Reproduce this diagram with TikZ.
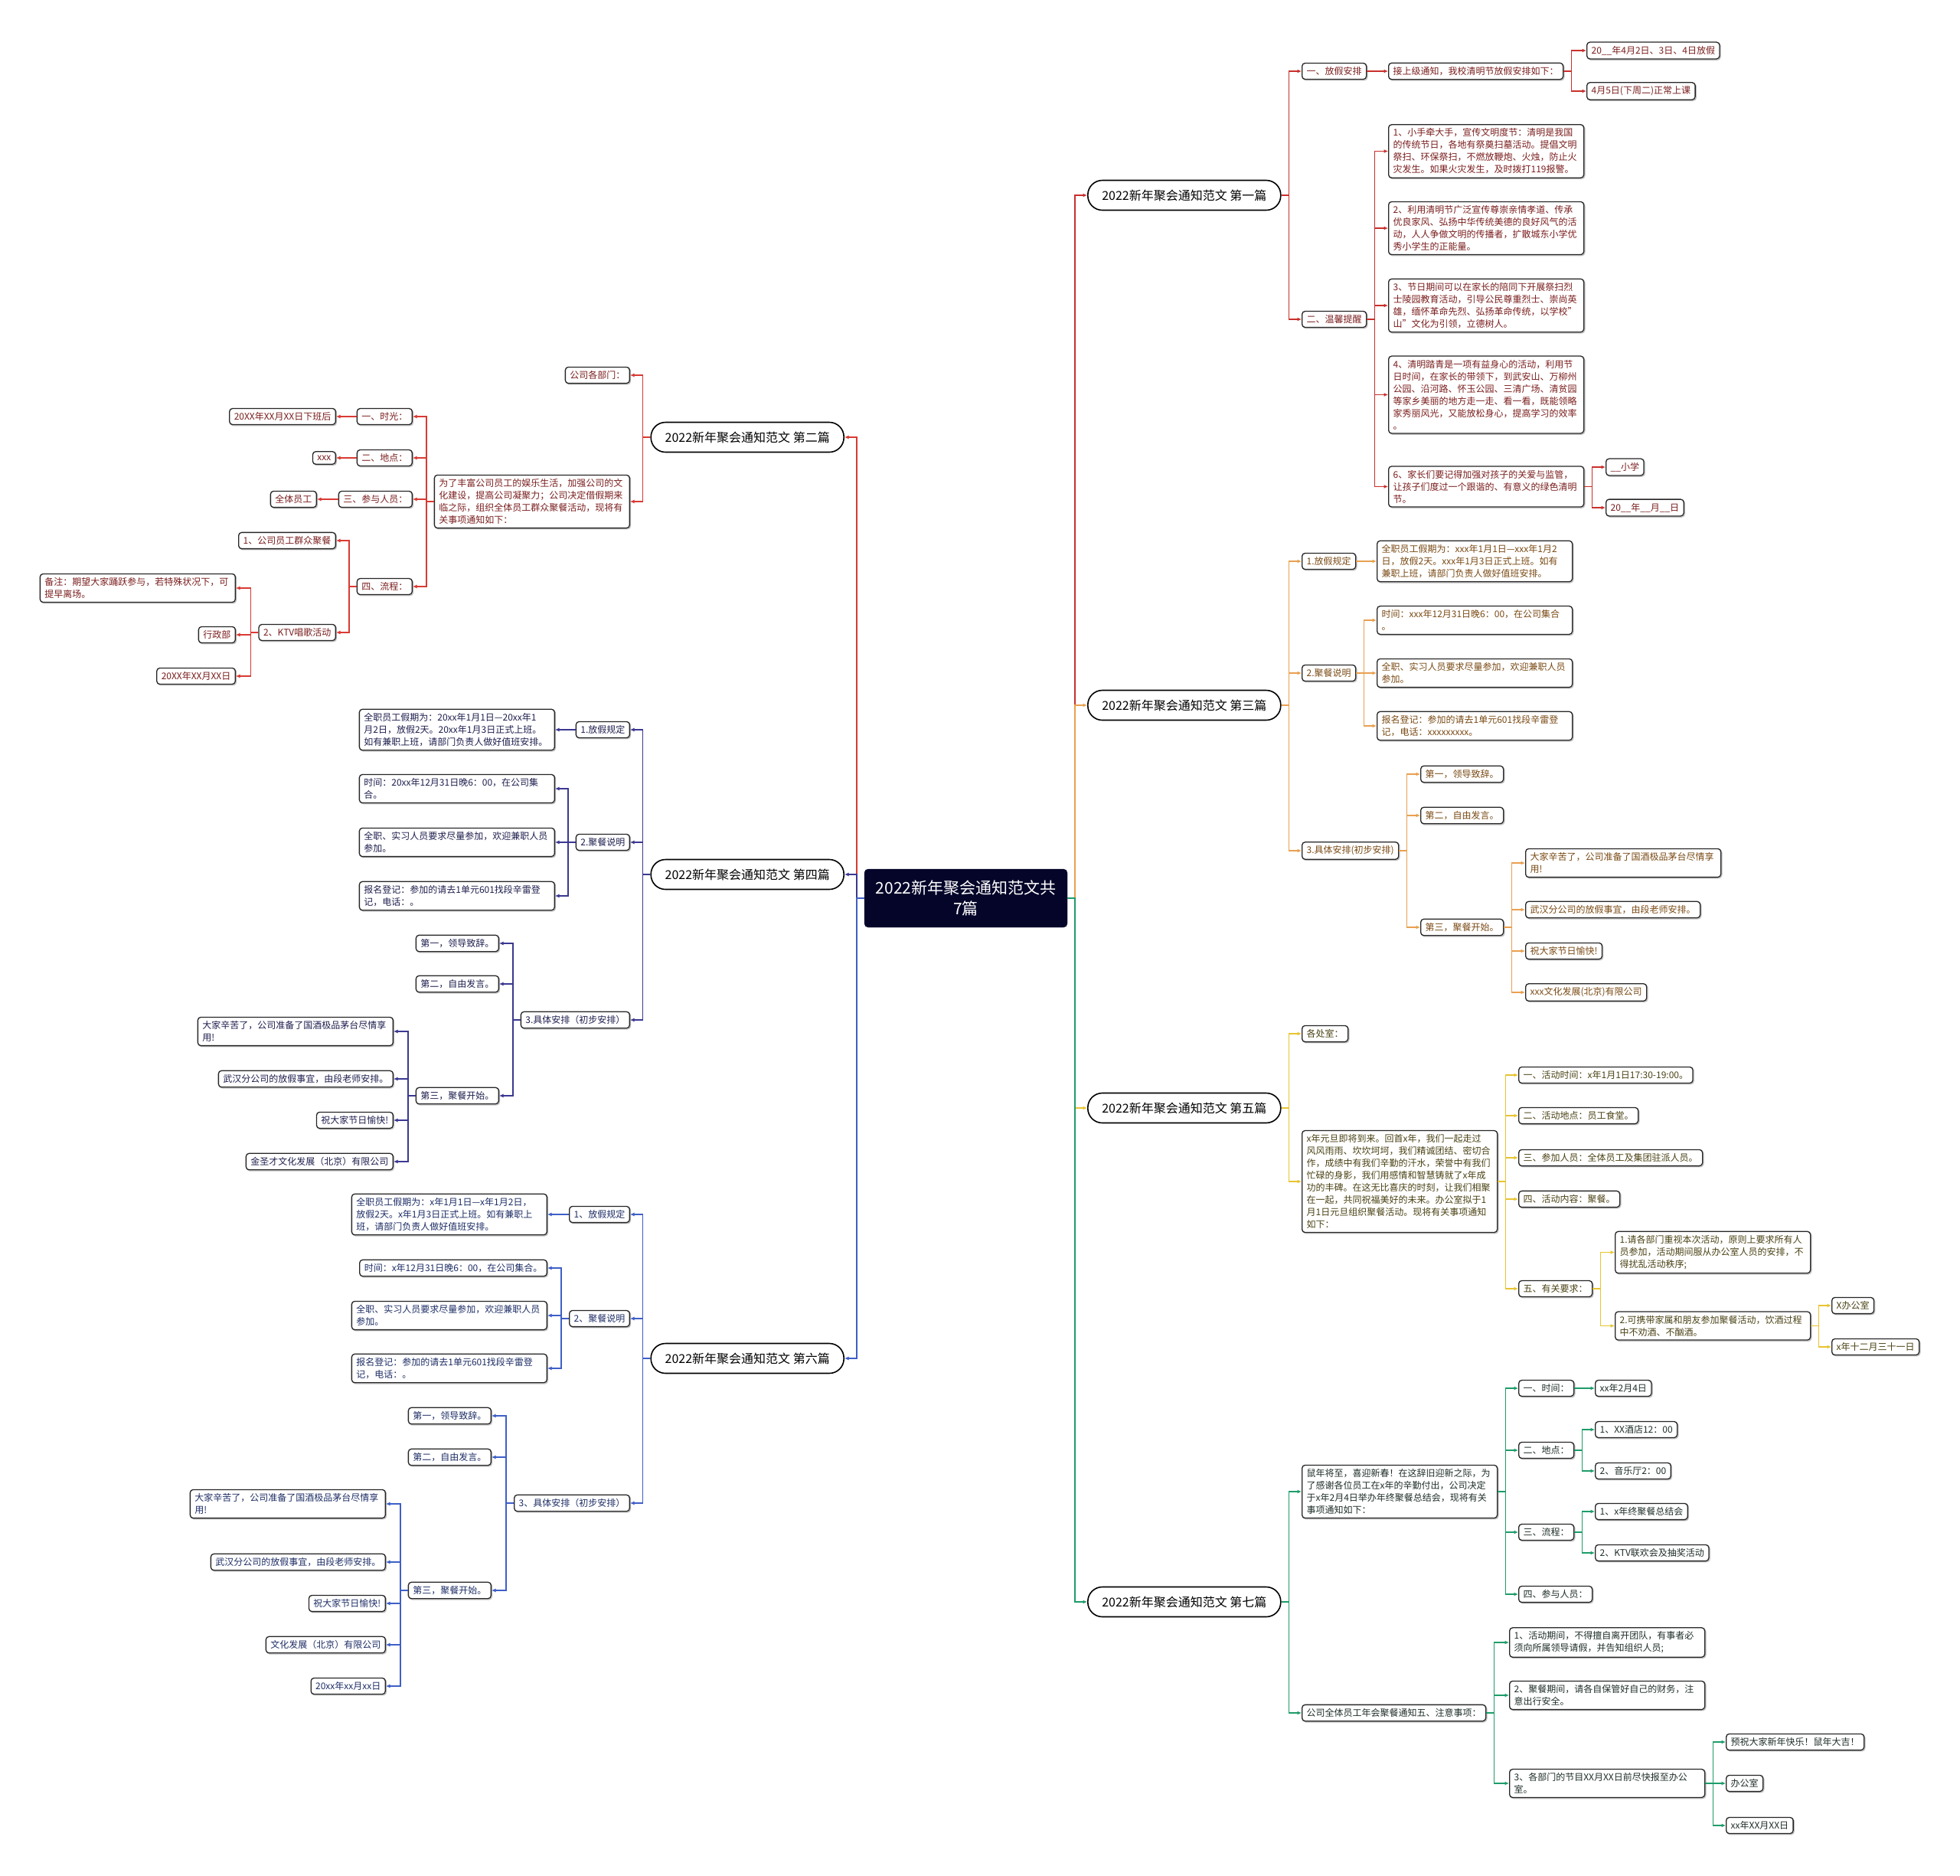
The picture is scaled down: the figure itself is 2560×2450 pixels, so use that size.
\documentclass[tikz,border=0pt]{standalone}
\usepackage{fontspec}
\setmainfont{Noto Sans CJK SC}
\usetikzlibrary{arrows.meta}
\definecolor{c1}{HTML}{C8302C}\definecolor{t1}{HTML}{7B1E1E}
\definecolor{c2}{HTML}{D93A33}\definecolor{t2}{HTML}{7B1E1E}
\definecolor{c3}{HTML}{E9A050}\definecolor{t3}{HTML}{7A4A14}
\definecolor{c4}{HTML}{3B3891}\definecolor{t4}{HTML}{1F1F4F}
\definecolor{c5}{HTML}{E6C431}\definecolor{t5}{HTML}{4A4214}
\definecolor{c6}{HTML}{3D5FC7}\definecolor{t6}{HTML}{1E2E66}
\definecolor{c7}{HTML}{1E9C6A}\definecolor{t7}{HTML}{1F2F28}
\definecolor{rootc}{HTML}{05052A}
\tikzset{
  leaf/.style={draw=black!85, line width=1.3pt, rounded corners=4pt, fill=white,
    inner xsep=6pt, inner ysep=5pt, font=\fontsize{12}{16}\selectfont, align=left,
    preaction={draw=black!25, line width=1.3pt, transform canvas={xshift=1.2pt,yshift=-1.2pt}}},
  para/.style={text width=243pt},
  ttl/.style={draw=black, line width=1.6pt, rounded corners=19pt, fill=white,
    minimum height=39pt, minimum width=252pt, font=\fontsize{16}{20}\selectfont},
  conn/.style={line width=1.6pt, -{Latex[length=5.5pt,width=5pt]}},
  R/.style={leaf, anchor=west},
  L/.style={leaf, anchor=east},
}
\newcommand\cR[3]{\draw[conn,#1] (#2.east) -- ++(10,0) |- (#3.west);}
\newcommand\cL[3]{\draw[conn,#1] (#2.west) -- ++(-10,0) |- (#3.east);}
\begin{document}
\begin{tikzpicture}[x=1pt,y=-1pt]
\fill[white] (0,0) rectangle (2560,2450);
\useasboundingbox (0,0) rectangle (2560,2450);

% root
\node[fill=rootc, draw=rootc, rounded corners=5pt, minimum width=265pt, minimum height=76pt,
  text=white, align=center, font=\fontsize{21}{27}\selectfont] (root) at (1261.5,1173)
  {2022新年聚会通知范文共\\7篇};

% titles
\node[ttl, anchor=west] (T1) at (1420,255) {2022新年聚会通知范文 第一篇};
\node[ttl, anchor=west] (T3) at (1420,921) {2022新年聚会通知范文 第三篇};
\node[ttl, anchor=west] (T5) at (1420,1447) {2022新年聚会通知范文 第五篇};
\node[ttl, anchor=west] (T7) at (1420,2092) {2022新年聚会通知范文 第七篇};
\node[ttl, anchor=east] (T2) at (1103,571) {2022新年聚会通知范文 第二篇};
\node[ttl, anchor=east] (T4) at (1103,1142) {2022新年聚会通知范文 第四篇};
\node[ttl, anchor=east] (T6) at (1103,1774) {2022新年聚会通知范文 第六篇};

\cR{c1}{root}{T1}
\cR{c3}{root}{T3}
\cR{c5}{root}{T5}
\cR{c7}{root}{T7}
\cL{c2}{root}{T2}
\cL{c4}{root}{T4}
\cL{c6}{root}{T6}

% ---------------- Branch 1
\begin{scope}[every node/.append style={text=t1}]
\node[R] (a1) at (1700,93) {一、放假安排};
\node[R] (a11) at (1813,93) {接上级通知，我校清明节放假安排如下：};
\node[R] (a111) at (2072,66) {20\_\_年4月2日、3日、4日放假};
\node[R] (a112) at (2072,119) {4月5日(下周二)正常上课};
\node[R] (a2) at (1700,417) {二、温馨提醒};
\node[R,para] (a21) at (1813,197.5) {1、小手牵大手，宣传文明度节：清明是我国\\的传统节日，各地有祭奠扫墓活动。提倡文明\\祭扫、环保祭扫，不燃放鞭炮、火烛，防止火\\灾发生。如果火灾发生，及时拨打119报警。};
\node[R,para] (a22) at (1813,298) {2、利用清明节广泛宣传尊崇亲情孝道、传承\\优良家风、弘扬中华传统美德的良好风气的活\\动，人人争做文明的传播者，扩散城东小学优\\秀小学生的正能量。};
\node[R,para] (a23) at (1813,399) {3、节日期间可以在家长的陪同下开展祭扫烈\\士陵园教育活动，引导公民尊重烈士、崇尚英\\雄，缅怀革命先烈、弘扬革命传统，以学校"\\山"文化为引领，立德树人。};
\node[R,para] (a24) at (1813,515.5) {4、清明踏青是一项有益身心的活动，利用节\\日时间，在家长的带领下，到武安山、万柳州\\公园、沿河路、怀玉公园、三清广场、清贫园\\等家乡美丽的地方走一走、看一看，既能领略\\家秀丽风光，又能放松身心，提高学习的效率\\。};
\node[R,para] (a26) at (1813,635.5) {6、家长们要记得加强对孩子的关爱与监管，\\让孩子们度过一个跟谐的、有意义的绿色清明\\节。};
\node[R] (a261) at (2097,610) {\_\_小学};
\node[R] (a262) at (2097,663) {20\_\_年\_\_月\_\_日};
\end{scope}
\cR{c1}{T1}{a1}\cR{c1}{T1}{a2}
\cR{c1}{a1}{a11}\cR{c1}{a11}{a111}\cR{c1}{a11}{a112}
\cR{c1}{a2}{a21}\cR{c1}{a2}{a22}\cR{c1}{a2}{a23}\cR{c1}{a2}{a24}\cR{c1}{a2}{a26}
\cR{c1}{a26}{a261}\cR{c1}{a26}{a262}

% ---------------- Branch 3
\begin{scope}[every node/.append style={text=t3}]
\node[R] (b1) at (1700,733) {1.放假规定};
\node[R,para] (b11) at (1798,733) {全职员工假期为：xxx年1月1日—xxx年1月2\\日，放假2天。xxx年1月3日正式上班。如有\\兼职上班，请部门负责人做好值班安排。};
\node[R] (b2) at (1700,879) {2.聚餐说明};
\node[R,para] (b21) at (1798,810) {时间：xxx年12月31日晚6：00，在公司集合\\。};
\node[R,para] (b22) at (1798,879) {全职、实习人员要求尽量参加，欢迎兼职人员\\参加。};
\node[R,para] (b23) at (1798,948) {报名登记：参加的请去1单元601找段辛雷登\\记，电话：xxxxxxxxx。};
\node[R] (b3) at (1700,1111) {3.具体安排(初步安排)};
\node[R] (b31) at (1855,1011) {第一，领导致辞。};
\node[R] (b32) at (1855,1065) {第二，自由发言。};
\node[R] (b33) at (1855,1211) {第三，聚餐开始。};
\node[R,para] (b331) at (1992,1127) {大家辛苦了，公司准备了国酒极品茅台尽情享\\用!};
\node[R] (b332) at (1992,1188) {武汉分公司的放假事宜，由段老师安排。};
\node[R] (b333) at (1992,1242) {祝大家节日愉快!};
\node[R] (b334) at (1992,1296) {xxx文化发展(北京)有限公司};
\end{scope}
\cR{c3}{T3}{b1}\cR{c3}{T3}{b2}\cR{c3}{T3}{b3}
\cR{c3}{b1}{b11}
\cR{c3}{b2}{b21}\cR{c3}{b2}{b22}\cR{c3}{b2}{b23}
\cR{c3}{b3}{b31}\cR{c3}{b3}{b32}\cR{c3}{b3}{b33}
\cR{c3}{b33}{b331}\cR{c3}{b33}{b332}\cR{c3}{b33}{b333}\cR{c3}{b33}{b334}

% ---------------- Branch 5
\begin{scope}[every node/.append style={text=t5}]
\node[R] (e1) at (1700,1350) {各处室：};
\node[R,para] (e2) at (1700,1543) {x年元旦即将到来。回首x年，我们一起走过\\风风雨雨、坎坎坷坷，我们精诚团结、密切合\\作，成绩中有我们辛勤的汗水，荣誉中有我们\\忙碌的身影，我们用感情和智慧铸就了x年成\\功的丰碑。在这无比喜庆的时刻，让我们相聚\\在一起，共同祝福美好的未来。办公室拟于1\\月1日元旦组织聚餐活动。现将有关事项通知\\如下：};
\node[R] (e21) at (1983,1404) {一、活动时间：x年1月1日17:30-19:00。};
\node[R] (e22) at (1983,1457) {二、活动地点：员工食堂。};
\node[R] (e23) at (1983,1512) {三、参加人员：全体员工及集团驻派人员。};
\node[R] (e24) at (1983,1566) {四、活动内容：聚餐。};
\node[R] (e25) at (1983,1683) {五、有关要求：};
\node[R,para] (e251) at (2109,1635.5) {1.请各部门重视本次活动，原则上要求所有人\\员参加，活动期间服从办公室人员的安排，不\\得扰乱活动秩序;};
\node[R,para] (e252) at (2109,1731.5) {2.可携带家属和朋友参加聚餐活动，饮酒过程\\中不劝酒、不酗酒。};
\node[R] (e2521) at (2392,1705) {X办公室};
\node[R] (e2522) at (2392,1759) {x年十二月三十一日};
\end{scope}
\cR{c5}{T5}{e1}\cR{c5}{T5}{e2}
\cR{c5}{e2}{e21}\cR{c5}{e2}{e22}\cR{c5}{e2}{e23}\cR{c5}{e2}{e24}\cR{c5}{e2}{e25}
\cR{c5}{e25}{e251}\cR{c5}{e25}{e252}
\cR{c5}{e252}{e2521}\cR{c5}{e252}{e2522}

% ---------------- Branch 7
\begin{scope}[every node/.append style={text=t7}]
\node[R,para] (g1) at (1700,1948) {鼠年将至，喜迎新春！在这辞旧迎新之际，为\\了感谢各位员工在x年的辛勤付出，公司决定\\于x年2月4日举办年终聚餐总结会，现将有关\\事项通知如下：};
\node[R] (g11) at (1983,1813) {一、时间：};
\node[R] (g111) at (2083,1813) {xx年2月4日};
\node[R] (g12) at (1983,1894) {二、地点：};
\node[R] (g121) at (2083,1867) {1、XX酒店12：00};
\node[R] (g122) at (2083,1921) {2、音乐厅2：00};
\node[R] (g13) at (1983,2001) {三、流程：};
\node[R] (g131) at (2083,1974) {1、x年终聚餐总结会};
\node[R] (g132) at (2083,2028) {2、KTV联欢会及抽奖活动};
\node[R] (g14) at (1983,2082) {四、参与人员：};
\node[R] (g2) at (1700,2237) {公司全体员工年会聚餐通知五、注意事项：};
\node[R,para] (g21) at (1971,2145) {1、活动期间，不得擅自离开团队，有事者必\\须向所属领导请假，并告知组织人员;};
\node[R,para] (g22) at (1971,2214) {2、聚餐期间，请各自保管好自己的财务，注\\意出行安全。};
\node[R,para] (g23) at (1971,2329) {3、各部门的节目XX月XX日前尽快报至办公\\室。};
\node[R] (g231) at (2254,2275) {预祝大家新年快乐！鼠年大吉！};
\node[R] (g232) at (2254,2329) {办公室};
\node[R] (g233) at (2254,2384) {xx年XX月XX日};
\end{scope}
\cR{c7}{T7}{g1}\cR{c7}{T7}{g2}
\cR{c7}{g1}{g11}\cR{c7}{g1}{g12}\cR{c7}{g1}{g13}\cR{c7}{g1}{g14}
\cR{c7}{g11}{g111}\cR{c7}{g12}{g121}\cR{c7}{g12}{g122}\cR{c7}{g13}{g131}\cR{c7}{g13}{g132}
\cR{c7}{g2}{g21}\cR{c7}{g2}{g22}\cR{c7}{g2}{g23}
\cR{c7}{g23}{g231}\cR{c7}{g23}{g232}\cR{c7}{g23}{g233}

% ---------------- Branch 2
\begin{scope}[every node/.append style={text=t2}]
\node[L] (h1) at (823,490) {公司各部门：};
\node[L,para] (h2) at (823,655) {为了丰富公司员工的娱乐生活，加强公司的文\\化建设，提高公司凝聚力；公司决定借假期来\\临之际，组织全体员工群众聚餐活动，现将有\\关事项通知如下：};
\node[L] (h21) at (539,544) {一、时光：};
\node[L] (h211) at (439,544) {20XX年XX月XX日下班后};
\node[L] (h22) at (539,598) {二、地点：};
\node[L] (h221) at (439,598) {xxx};
\node[L] (h23) at (539,652) {三、参与人员：};
\node[L] (h231) at (414,652) {全体员工};
\node[L] (h24) at (539,766) {四、流程：};
\node[L] (h241) at (439,706) {1、公司员工群众聚餐};
\node[L] (h242) at (439,826) {2、KTV唱歌活动};
\node[L,para] (h2421) at (308,768) {备注：期望大家踊跃参与，若特殊状况下，可\\提早离场。};
\node[L] (h2422) at (308,829) {行政部};
\node[L] (h2423) at (308,883) {20XX年XX月XX日};
\end{scope}
\cL{c2}{T2}{h1}\cL{c2}{T2}{h2}
\cL{c2}{h2}{h21}\cL{c2}{h2}{h22}\cL{c2}{h2}{h23}\cL{c2}{h2}{h24}
\cL{c2}{h21}{h211}\cL{c2}{h22}{h221}\cL{c2}{h23}{h231}
\cL{c2}{h24}{h241}\cL{c2}{h24}{h242}
\cL{c2}{h242}{h2421}\cL{c2}{h242}{h2422}\cL{c2}{h242}{h2423}

% ---------------- Branch 4
\begin{scope}[every node/.append style={text=t4}]
\node[L] (d1) at (823,953) {1.放假规定};
\node[L,para] (d11) at (725,953) {全职员工假期为：20xx年1月1日—20xx年1\\月2日，放假2天。20xx年1月3日正式上班。\\如有兼职上班，请部门负责人做好值班安排。};
\node[L] (d2) at (823,1100) {2.聚餐说明};
\node[L,para] (d21) at (725,1030) {时间：20xx年12月31日晚6：00，在公司集\\合。};
\node[L,para] (d22) at (725,1100) {全职、实习人员要求尽量参加，欢迎兼职人员\\参加。};
\node[L,para] (d23) at (725,1170) {报名登记：参加的请去1单元601找段辛雷登\\记，电话：。};
\node[L] (d3) at (823,1332) {3.具体安排（初步安排）};
\node[L] (d31) at (652,1232) {第一，领导致辞。};
\node[L] (d32) at (652,1285) {第二，自由发言。};
\node[L] (d33) at (652,1431) {第三，聚餐开始。};
\node[L,para] (d331) at (514,1347) {大家辛苦了，公司准备了国酒极品茅台尽情享\\用!};
\node[L] (d332) at (514,1409) {武汉分公司的放假事宜，由段老师安排。};
\node[L] (d333) at (514,1463) {祝大家节日愉快!};
\node[L] (d334) at (514,1517) {金圣才文化发展（北京）有限公司};
\end{scope}
\cL{c4}{T4}{d1}\cL{c4}{T4}{d2}\cL{c4}{T4}{d3}
\cL{c4}{d1}{d11}
\cL{c4}{d2}{d21}\cL{c4}{d2}{d22}\cL{c4}{d2}{d23}
\cL{c4}{d3}{d31}\cL{c4}{d3}{d32}\cL{c4}{d3}{d33}
\cL{c4}{d33}{d331}\cL{c4}{d33}{d332}\cL{c4}{d33}{d333}\cL{c4}{d33}{d334}

% ---------------- Branch 6
\begin{scope}[every node/.append style={text=t6}]
\node[L] (f1) at (823,1586) {1、放假规定};
\node[L,para] (f11) at (715,1586) {全职员工假期为：x年1月1日—x年1月2日，\\放假2天。x年1月3日正式上班。如有兼职上\\班，请部门负责人做好值班安排。};
\node[L] (f2) at (823,1722) {2、聚餐说明};
\node[L] (f21) at (715,1656) {时间：x年12月31日晚6：00，在公司集合。};
\node[L,para] (f22) at (715,1718) {全职、实习人员要求尽量参加，欢迎兼职人员\\参加。};
\node[L,para] (f23) at (715,1787) {报名登记：参加的请去1单元601找段辛雷登\\记，电话：。};
\node[L] (f3) at (823,1963) {3、具体安排（初步安排）};
\node[L] (f31) at (642,1849) {第一，领导致辞。};
\node[L] (f32) at (642,1903) {第二，自由发言。};
\node[L] (f33) at (642,2077) {第三，聚餐开始。};
\node[L,para] (f331) at (504,1964) {大家辛苦了，公司准备了国酒极品茅台尽情享\\用!};
\node[L] (f332) at (504,2040) {武汉分公司的放假事宜，由段老师安排。};
\node[L] (f333) at (504,2094) {祝大家节日愉快!};
\node[L] (f334) at (504,2148) {文化发展（北京）有限公司};
\node[L] (f335) at (504,2202) {20xx年xx月xx日};
\end{scope}
\cL{c6}{T6}{f1}\cL{c6}{T6}{f2}\cL{c6}{T6}{f3}
\cL{c6}{f1}{f11}
\cL{c6}{f2}{f21}\cL{c6}{f2}{f22}\cL{c6}{f2}{f23}
\cL{c6}{f3}{f31}\cL{c6}{f3}{f32}\cL{c6}{f3}{f33}
\cL{c6}{f33}{f331}\cL{c6}{f33}{f332}\cL{c6}{f33}{f333}\cL{c6}{f33}{f334}\cL{c6}{f33}{f335}
\end{tikzpicture}
\end{document}
